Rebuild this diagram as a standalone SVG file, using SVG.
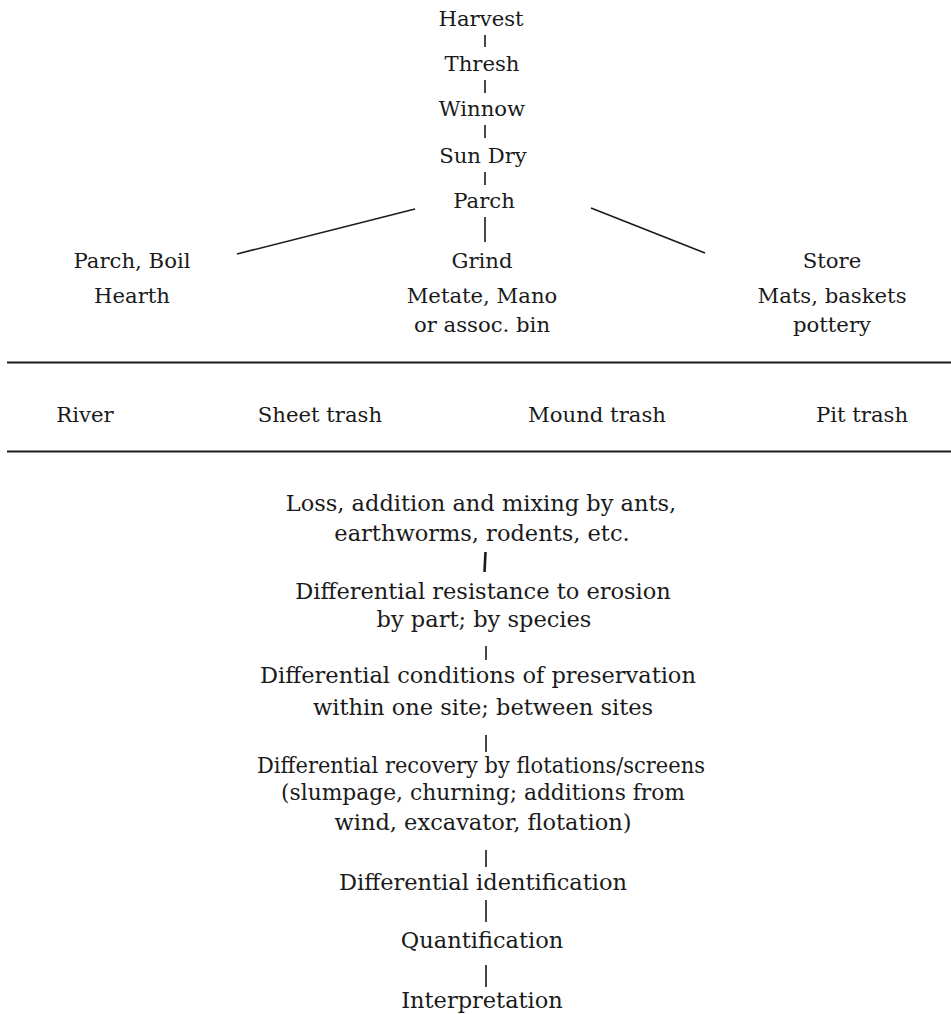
<svg xmlns="http://www.w3.org/2000/svg" width="951" height="1014" viewBox="0 0 951 1014">
<style>
text{font-family:"DejaVu Serif","Liberation Serif",serif;font-size:21.2px;fill:#1a1a1a;text-anchor:middle}
.lo text{font-size:22.5px}
.c line{stroke:#1a1a1a;stroke-width:1.6;fill:none}
.c .thick{stroke-width:2.6}
.c .rule{stroke-width:2}
</style>
<rect width="951" height="1014" fill="#fff"/>
<g class="c" id="connectors">
<line x1="485" y1="35" x2="485" y2="47"/>
<line x1="485" y1="80" x2="485" y2="93"/>
<line x1="485" y1="125" x2="485" y2="138"/>
<line x1="485" y1="172" x2="485" y2="185"/>
<line x1="485" y1="217" x2="485" y2="242"/>
<line x1="415" y1="209" x2="237" y2="254"/>
<line x1="591" y1="208" x2="705" y2="253"/>
<line class="rule" x1="7" y1="362.5" x2="951" y2="362.5"/>
<line class="rule" x1="7" y1="451.5" x2="951" y2="451.5"/>
<line class="thick" x1="485.5" y1="552" x2="484.5" y2="572"/>
<line x1="486" y1="646" x2="486" y2="660"/>
<line x1="486" y1="735" x2="486" y2="752"/>
<line x1="486" y1="850" x2="486" y2="867"/>
<line x1="486" y1="900" x2="486" y2="922"/>
<line x1="486" y1="965" x2="486" y2="987"/>
</g>
<g id="harvest"><text x="481" y="26">Harvest</text></g>
<g id="thresh"><text x="482" y="71">Thresh</text></g>
<g id="winnow"><text x="482" y="116">Winnow</text></g>
<g id="sundry"><text x="483" y="163">Sun Dry</text></g>
<g id="parch"><text x="484" y="208">Parch</text></g>
<g id="parchboil"><text x="132" y="268">Parch, Boil</text><text x="132" y="303">Hearth</text></g>
<g id="grind"><text x="482" y="268">Grind</text><text x="482" y="303">Metate, Mano</text><text x="482" y="332">or assoc. bin</text></g>
<g id="store"><text x="832" y="268">Store</text><text x="832" y="303">Mats, baskets</text><text x="832" y="332">pottery</text></g>
<g id="river"><text x="85" y="422">River</text></g>
<g id="sheet"><text x="320" y="422">Sheet trash</text></g>
<g id="mound"><text x="597" y="422">Mound trash</text></g>
<g id="pit"><text x="862" y="422">Pit trash</text></g>
<g class="lo">
<g id="loss"><text x="481" y="511">Loss, addition and mixing by ants,</text><text x="482" y="541">earthworms, rodents, etc.</text></g>
<g id="resistance"><text x="483" y="599">Differential resistance to erosion</text><text x="484" y="627">by part; by species</text></g>
<g id="conditions"><text x="478" y="683">Differential conditions of preservation</text><text x="483" y="715">within one site; between sites</text></g>
<g id="recovery"><text x="481" y="773" textLength="448" lengthAdjust="spacingAndGlyphs">Differential recovery by flotations/screens</text><text x="483" y="800" textLength="404" lengthAdjust="spacingAndGlyphs">(slumpage, churning; additions from</text><text x="483" y="830">wind, excavator, flotation)</text></g>
<g id="identification"><text x="483" y="890">Differential identification</text></g>
<g id="quantification"><text x="482" y="948">Quantification</text></g>
<g id="interpretation"><text x="482" y="1008">Interpretation</text></g>
</g>
</svg>
